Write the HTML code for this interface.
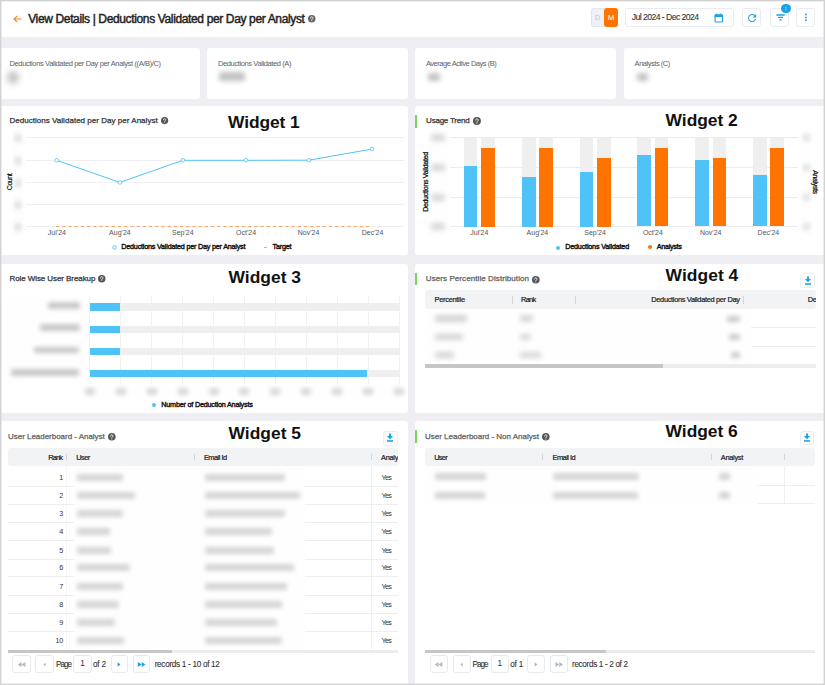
<!DOCTYPE html>
<html><head><meta charset="utf-8"><style>
html,body{margin:0;padding:0;width:825px;height:685px;overflow:hidden;background:#fff}
#root{position:relative;width:825px;height:685px;overflow:hidden;font-family:"Liberation Sans", sans-serif}
.r{position:absolute}
.t{position:absolute;white-space:nowrap;line-height:1;font-family:"Liberation Sans", sans-serif}
</style></head><body><div id="root">
<div class="r" style="left:0.00px;top:0.00px;width:825.00px;height:685.00px;background:#eeeef3"></div>
<div class="r" style="left:0.00px;top:0.00px;width:825.00px;height:37.00px;background:#fff"></div>
<svg class="r" style="left:12.5px;top:15px" width="9" height="8" viewBox="0 0 9 8"><path d="M8.5 4H1.3M4.3 0.9L1.1 4l3.2 3.1" stroke="#f58220" stroke-width="1.15" fill="none"/></svg>
<div id="title" class="t" style="left:28.20px;top:12.53px;font-size:12px;color:#222;-webkit-text-stroke:0.45px #222;letter-spacing:-0.361px;">View Details | Deductions Validated per Day per Analyst</div>
<svg class="r" style="left:308.25px;top:15.25px;overflow:visible" width="7.5" height="7.5" viewBox="0 0 16 16"><circle cx="8" cy="8" r="8" fill="#666"/><path d="M5.5 6.3a2.5 2.5 0 1 1 3.6 2.2c-.8.4-1.1.8-1.1 1.6v.3" stroke="#fff" stroke-width="1.8" fill="none" stroke-linecap="round"/><circle cx="8" cy="12.5" r="1.05" fill="#fff"/></svg>
<div class="r" style="left:590.80px;top:8.10px;width:14.20px;height:18.50px;background:#eef2f8;border:1px solid #e2e6ee;border-right:none;border-radius:3px 0 0 3px;box-sizing:border-box"></div>
<div class="r" style="left:603.90px;top:8.10px;width:13.90px;height:18.50px;background:#ff7300;border-radius:3px"></div>
<div id="tD" class="t" style="left:597.40px;transform:translateX(-50%);top:13.82px;font-size:7.5px;color:#c4c8d0;letter-spacing:0.000px;">D</div>
<div id="tM" class="t" style="left:611.10px;transform:translateX(-50%);top:13.56px;font-size:8px;color:#fff;letter-spacing:0.000px;">M</div>
<div class="r" style="left:625.40px;top:8.10px;width:108.40px;height:18.50px;background:#fff;border:1px solid #e8ebf0;border-radius:3px;box-sizing:border-box"></div>
<div id="date" class="t" style="left:631.80px;top:13.26px;font-size:8.7px;color:#333;-webkit-text-stroke:0.1px #333;letter-spacing:-0.576px;">Jul 2024 - Dec 2024</div>
<svg class="r" style="left:713.6px;top:12.6px" width="9.5" height="10" viewBox="0 0 9.5 10"><rect x="1.1" y="2" width="7.4" height="7" rx="0.7" stroke="#1ba1e6" stroke-width="1.15" fill="none"/><rect x="0.6" y="1.5" width="8.4" height="2.6" rx="0.6" fill="#1ba1e6"/><path d="M2.7 0.4v1.6M6.8 0.4v1.6" stroke="#1ba1e6" stroke-width="1.1"/></svg>
<div class="r" style="left:742.00px;top:8.30px;width:19.40px;height:18.70px;background:#fff;border:1px solid #e8ebf0;border-radius:3px;box-sizing:border-box"></div>
<svg class="r" style="left:746.6px;top:12.6px" width="10.2" height="10.2" viewBox="2 2 20 20"><path d="M17.65 6.35A7.958 7.958 0 0 0 12 4c-4.42 0-7.99 3.58-7.99 8s3.57 8 7.99 8c3.73 0 6.84-2.55 7.73-6h-2.08A5.99 5.99 0 0 1 12 18c-3.31 0-6-2.690-6-6s2.69-6 6-6c1.66 0 3.14.69 4.22 1.78L13 11h7V4l-2.35 2.35z" fill="#1ba1e6"/></svg>
<div class="r" style="left:770.00px;top:8.30px;width:19.40px;height:18.70px;background:#fff;border:1px solid #e8ebf0;border-radius:3px;box-sizing:border-box"></div>
<svg class="r" style="left:775.6px;top:14px" width="9" height="7" viewBox="0 0 9 7"><path d="M0.4 1h8.3M2 3.4h5.1M3.5 5.8h2.1" stroke="#1ba1e6" stroke-width="1.3"/></svg>
<div class="r" style="left:780.8px;top:3.7px;width:9.8px;height:9.8px;border-radius:50%;background:#1ba1e6;color:rgba(255,255,255,0.75);font-size:4.2px;line-height:9.8px;text-align:center;font-family:"Liberation Sans", sans-serif">1</div>
<div class="r" style="left:796.40px;top:8.30px;width:19.10px;height:18.70px;background:#fff;border:1px solid #e8ebf0;border-radius:3px;box-sizing:border-box"></div>
<svg class="r" style="left:800px;top:10px" width="12" height="14"><circle cx="5.9" cy="4.5" r="0.95" fill="#1ba1e6"/><circle cx="5.9" cy="7.4" r="0.95" fill="#1ba1e6"/><circle cx="5.9" cy="10.3" r="0.95" fill="#1ba1e6"/></svg>
<div class="r" style="left:0.00px;top:48.00px;width:199.50px;height:50.50px;background:#fff;border-radius:3px"></div>
<div class="r" style="left:206.50px;top:48.00px;width:201.50px;height:50.50px;background:#fff;border-radius:3px"></div>
<div class="r" style="left:415.00px;top:48.00px;width:201.30px;height:50.50px;background:#fff;border-radius:3px"></div>
<div class="r" style="left:623.50px;top:48.00px;width:201.50px;height:50.50px;background:#fff;border-radius:3px"></div>
<div id="s1" class="t" style="left:9.50px;top:59.52px;font-size:7.5px;color:#5e5e5e;letter-spacing:-0.366px;">Deductions Validated per Day per Analyst ((A/B)/C)</div>
<div id="s2" class="t" style="left:218.00px;top:59.52px;font-size:7.5px;color:#5e5e5e;letter-spacing:-0.388px;">Deductions Validated (A)</div>
<div id="s3" class="t" style="left:425.90px;top:59.52px;font-size:7.5px;color:#5e5e5e;letter-spacing:-0.466px;">Average Active Days (B)</div>
<div id="s4" class="t" style="left:634.60px;top:59.52px;font-size:7.5px;color:#5e5e5e;letter-spacing:-0.468px;">Analysts (C)</div>
<div class="r" style="left:7.50px;top:71.50px;width:10.00px;height:11.00px;background:#bababa;filter:blur(3.8px);opacity:1;border-radius:2px"></div>
<div class="r" style="left:219.00px;top:72.30px;width:26.00px;height:8.40px;background:#c2c2c2;filter:blur(2.6px);opacity:1;border-radius:2px"></div>
<div class="r" style="left:427.50px;top:72.50px;width:12.50px;height:8.00px;background:#c2c2c2;filter:blur(2.6px);opacity:1;border-radius:2px"></div>
<div class="r" style="left:636.50px;top:72.50px;width:11.50px;height:8.00px;background:#c2c2c2;filter:blur(2.6px);opacity:1;border-radius:2px"></div>
<div class="r" style="left:0.00px;top:106.00px;width:408.00px;height:149.00px;background:#fff;border-radius:3px"></div>
<div class="r" style="left:0.00px;top:263.70px;width:408.00px;height:149.70px;background:#fff;border-radius:3px"></div>
<div class="r" style="left:0.00px;top:421.00px;width:408.00px;height:269.00px;background:#fff;border-radius:3px"></div>
<div class="r" style="left:415.00px;top:106.00px;width:410.00px;height:149.00px;background:#fff;border-radius:3px"></div>
<div class="r" style="left:415.00px;top:263.70px;width:410.00px;height:149.70px;background:#fff;border-radius:3px"></div>
<div class="r" style="left:415.00px;top:421.00px;width:410.00px;height:269.00px;background:#fff;border-radius:3px"></div>
<div class="r" style="left:415.00px;top:114.80px;width:2.00px;height:13.00px;background:#7ed35f"></div>
<div class="r" style="left:415.00px;top:272.80px;width:2.00px;height:12.60px;background:#7ed35f"></div>
<div class="r" style="left:415.00px;top:430.10px;width:2.00px;height:12.70px;background:#7ed35f"></div>
<div id="w1t" class="t" style="left:9.50px;top:117.06px;font-size:8px;color:#333;-webkit-text-stroke:0.25px #333;letter-spacing:0.029px;">Deductions Validated per Day per Analyst</div>
<svg class="r" style="left:160.90px;top:117.30px;overflow:visible" width="7.2" height="7.2" viewBox="0 0 16 16"><circle cx="8" cy="8" r="8" fill="#555"/><path d="M5.5 6.3a2.5 2.5 0 1 1 3.6 2.2c-.8.4-1.1.8-1.1 1.6v.3" stroke="#fff" stroke-width="1.8" fill="none" stroke-linecap="round"/><circle cx="8" cy="12.5" r="1.05" fill="#fff"/></svg>
<div class="r" style="left:13.00px;top:129.00px;width:10.00px;height:106.00px;background:#fefefe;filter:blur(0.6px)"></div>
<div class="r" style="left:25.50px;top:137.00px;width:378.00px;height:1.00px;background:#efefef"></div>
<div class="r" style="left:15.00px;top:133.50px;width:6.00px;height:8.00px;background:#dcdcdc;filter:blur(2.4px);opacity:1;border-radius:2px"></div>
<div class="r" style="left:25.50px;top:160.00px;width:378.00px;height:1.00px;background:#efefef"></div>
<div class="r" style="left:15.00px;top:156.50px;width:6.00px;height:8.00px;background:#dcdcdc;filter:blur(2.4px);opacity:1;border-radius:2px"></div>
<div class="r" style="left:25.50px;top:182.00px;width:378.00px;height:1.00px;background:#efefef"></div>
<div class="r" style="left:15.00px;top:178.50px;width:6.00px;height:8.00px;background:#dcdcdc;filter:blur(2.4px);opacity:1;border-radius:2px"></div>
<div class="r" style="left:25.50px;top:204.00px;width:378.00px;height:1.00px;background:#efefef"></div>
<div class="r" style="left:15.00px;top:200.50px;width:6.00px;height:8.00px;background:#dcdcdc;filter:blur(2.4px);opacity:1;border-radius:2px"></div>
<div class="r" style="left:25.50px;top:226.00px;width:378.00px;height:1.00px;background:#efefef"></div>
<div class="r" style="left:15.00px;top:222.50px;width:6.00px;height:8.00px;background:#dcdcdc;filter:blur(2.4px);opacity:1;border-radius:2px"></div>
<div id="count" class="t" style="left:8.70px;top:182.10px;font-size:7px;color:#111;-webkit-text-stroke:0.2px #111;letter-spacing:-0.473px;transform:translate(-50%,-50%) rotate(-90deg)">Count</div>
<svg class="r" style="left:56px;top:225px" width="320" height="3"><path d="M0 1.5H316" stroke="#fca56b" stroke-width="1.1" stroke-dasharray="3.2 3"/></svg>
<svg class="r" style="left:0;top:0" width="412" height="260"><path d="M56.6 160.3 L119.9 182.4 L182.9 160.3 L245.9 160.3 L308.8 160.2 L371.9 149.1" stroke="#4fc3f7" stroke-width="1" fill="none"/><circle cx="56.6" cy="160.3" r="1.8" fill="#fff" stroke="#4fc3f7" stroke-width="0.8"/><circle cx="119.9" cy="182.4" r="1.8" fill="#fff" stroke="#4fc3f7" stroke-width="0.8"/><circle cx="182.9" cy="160.3" r="1.8" fill="#fff" stroke="#4fc3f7" stroke-width="0.8"/><circle cx="245.9" cy="160.3" r="1.8" fill="#fff" stroke="#4fc3f7" stroke-width="0.8"/><circle cx="308.8" cy="160.2" r="1.8" fill="#fff" stroke="#4fc3f7" stroke-width="0.8"/><circle cx="371.9" cy="149.1" r="1.8" fill="#fff" stroke="#4fc3f7" stroke-width="0.8"/></svg>
<div id="w1x0" class="t" style="left:56.90px;transform:translateX(-50%);top:229.39px;font-size:7px;color:#555;letter-spacing:0.000px;">Jul'24</div>
<div id="w1x1" class="t" style="left:119.90px;transform:translateX(-50%);top:229.39px;font-size:7px;color:#555;letter-spacing:0.000px;">Aug'24</div>
<div id="w1x2" class="t" style="left:182.80px;transform:translateX(-50%);top:229.39px;font-size:7px;color:#555;letter-spacing:0.000px;">Sep'24</div>
<div id="w1x3" class="t" style="left:246.10px;transform:translateX(-50%);top:229.39px;font-size:7px;color:#555;letter-spacing:0.000px;">Oct'24</div>
<div id="w1x4" class="t" style="left:308.50px;transform:translateX(-50%);top:229.39px;font-size:7px;color:#555;letter-spacing:0.000px;">Nov'24</div>
<div id="w1x5" class="t" style="left:372.50px;transform:translateX(-50%);top:229.39px;font-size:7px;color:#555;letter-spacing:0.000px;">Dec'24</div>
<svg class="r" style="left:112px;top:244.8px" width="5" height="5"><circle cx="2.5" cy="2.5" r="1.8" fill="#fff" stroke="#4fc3f7" stroke-width="0.9"/></svg>
<div id="w1l1" class="t" style="left:121.30px;top:242.96px;font-size:7.2px;color:#111;-webkit-text-stroke:0.4px #111;letter-spacing:-0.203px;">Deductions Validated per Day per Analyst</div>
<div class="r" style="left:264.10px;top:247.00px;width:3.20px;height:1.00px;background:#fca56b"></div>
<div id="w1l2" class="t" style="left:272.60px;top:242.96px;font-size:7.2px;color:#111;-webkit-text-stroke:0.4px #111;letter-spacing:-0.217px;">Target</div>
<div id="w2t" class="t" style="left:426.10px;top:116.76px;font-size:8px;color:#333;-webkit-text-stroke:0.25px #333;letter-spacing:-0.231px;">Usage Trend</div>
<svg class="r" style="left:473.05px;top:117.05px;overflow:visible" width="7.9" height="7.9" viewBox="0 0 16 16"><circle cx="8" cy="8" r="8" fill="#555"/><path d="M5.5 6.3a2.5 2.5 0 1 1 3.6 2.2c-.8.4-1.1.8-1.1 1.6v.3" stroke="#fff" stroke-width="1.8" fill="none" stroke-linecap="round"/><circle cx="8" cy="12.5" r="1.05" fill="#fff"/></svg>
<div class="r" style="left:428.00px;top:126.00px;width:20.00px;height:109.00px;background:#fefefe;filter:blur(0.6px)"></div>
<div class="r" style="left:800.50px;top:125.00px;width:10.50px;height:110.00px;background:#fefefe;filter:blur(0.6px)"></div>
<div class="r" style="left:450.20px;top:137.00px;width:347.50px;height:1.00px;background:#ececec"></div>
<div class="r" style="left:431.00px;top:133.70px;width:14.00px;height:7.60px;background:#d8d8d8;filter:blur(2.5px);opacity:1;border-radius:2px"></div>
<div class="r" style="left:802.50px;top:133.70px;width:7.50px;height:7.60px;background:#dedede;filter:blur(2.5px);opacity:1;border-radius:2px"></div>
<div class="r" style="left:450.20px;top:167.00px;width:347.50px;height:1.00px;background:#ececec"></div>
<div class="r" style="left:431.00px;top:163.70px;width:14.00px;height:7.60px;background:#d8d8d8;filter:blur(2.5px);opacity:1;border-radius:2px"></div>
<div class="r" style="left:802.50px;top:163.70px;width:7.50px;height:7.60px;background:#dedede;filter:blur(2.5px);opacity:1;border-radius:2px"></div>
<div class="r" style="left:450.20px;top:197.00px;width:347.50px;height:1.00px;background:#ececec"></div>
<div class="r" style="left:431.00px;top:193.70px;width:14.00px;height:7.60px;background:#d8d8d8;filter:blur(2.5px);opacity:1;border-radius:2px"></div>
<div class="r" style="left:802.50px;top:193.70px;width:7.50px;height:7.60px;background:#dedede;filter:blur(2.5px);opacity:1;border-radius:2px"></div>
<div class="r" style="left:450.20px;top:226.00px;width:347.50px;height:1.00px;background:#ececec"></div>
<div class="r" style="left:431.00px;top:222.70px;width:14.00px;height:7.60px;background:#d8d8d8;filter:blur(2.5px);opacity:1;border-radius:2px"></div>
<div class="r" style="left:802.50px;top:222.70px;width:7.50px;height:7.60px;background:#dedede;filter:blur(2.5px);opacity:1;border-radius:2px"></div>
<div class="r" style="left:463.70px;top:137.50px;width:13.80px;height:89.00px;background:#efefef"></div>
<div class="r" style="left:481.10px;top:137.50px;width:13.80px;height:89.00px;background:#efefef"></div>
<div class="r" style="left:463.70px;top:165.75px;width:13.80px;height:60.75px;background:#4fc3f7"></div>
<div class="r" style="left:481.10px;top:148.25px;width:13.80px;height:78.25px;background:#ff7300"></div>
<div class="r" style="left:521.80px;top:137.50px;width:13.80px;height:89.00px;background:#efefef"></div>
<div class="r" style="left:539.20px;top:137.50px;width:13.80px;height:89.00px;background:#efefef"></div>
<div class="r" style="left:521.80px;top:176.50px;width:13.80px;height:50.00px;background:#4fc3f7"></div>
<div class="r" style="left:539.20px;top:148.25px;width:13.80px;height:78.25px;background:#ff7300"></div>
<div class="r" style="left:579.50px;top:137.50px;width:13.80px;height:89.00px;background:#efefef"></div>
<div class="r" style="left:596.90px;top:137.50px;width:13.80px;height:89.00px;background:#efefef"></div>
<div class="r" style="left:579.50px;top:172.00px;width:13.80px;height:54.50px;background:#4fc3f7"></div>
<div class="r" style="left:596.90px;top:158.25px;width:13.80px;height:68.25px;background:#ff7300"></div>
<div class="r" style="left:637.30px;top:137.50px;width:13.80px;height:89.00px;background:#efefef"></div>
<div class="r" style="left:654.70px;top:137.50px;width:13.80px;height:89.00px;background:#efefef"></div>
<div class="r" style="left:637.30px;top:155.10px;width:13.80px;height:71.40px;background:#4fc3f7"></div>
<div class="r" style="left:654.70px;top:148.40px;width:13.80px;height:78.10px;background:#ff7300"></div>
<div class="r" style="left:695.10px;top:137.50px;width:13.80px;height:89.00px;background:#efefef"></div>
<div class="r" style="left:712.50px;top:137.50px;width:13.80px;height:89.00px;background:#efefef"></div>
<div class="r" style="left:695.10px;top:159.60px;width:13.80px;height:66.90px;background:#4fc3f7"></div>
<div class="r" style="left:712.50px;top:158.10px;width:13.80px;height:68.40px;background:#ff7300"></div>
<div class="r" style="left:752.80px;top:137.50px;width:13.80px;height:89.00px;background:#efefef"></div>
<div class="r" style="left:770.20px;top:137.50px;width:13.80px;height:89.00px;background:#efefef"></div>
<div class="r" style="left:752.80px;top:174.70px;width:13.80px;height:51.80px;background:#4fc3f7"></div>
<div class="r" style="left:770.20px;top:148.40px;width:13.80px;height:78.10px;background:#ff7300"></div>
<div id="w2x0" class="t" style="left:479.30px;transform:translateX(-50%);top:228.79px;font-size:7px;color:#555;letter-spacing:0.000px;">Jul'24</div>
<div id="w2x1" class="t" style="left:537.40px;transform:translateX(-50%);top:228.79px;font-size:7px;color:#555;letter-spacing:0.000px;">Aug'24</div>
<div id="w2x2" class="t" style="left:595.10px;transform:translateX(-50%);top:228.79px;font-size:7px;color:#555;letter-spacing:0.000px;">Sep'24</div>
<div id="w2x3" class="t" style="left:652.90px;transform:translateX(-50%);top:228.79px;font-size:7px;color:#555;letter-spacing:0.000px;">Oct'24</div>
<div id="w2x4" class="t" style="left:710.70px;transform:translateX(-50%);top:228.79px;font-size:7px;color:#555;letter-spacing:0.000px;">Nov'24</div>
<div id="w2x5" class="t" style="left:768.40px;transform:translateX(-50%);top:228.79px;font-size:7px;color:#555;letter-spacing:0.000px;">Dec'24</div>
<div id="dvlab" class="t" style="left:425.20px;top:182.10px;font-size:7px;color:#111;-webkit-text-stroke:0.25px #111;letter-spacing:-0.297px;transform:translate(-50%,-50%) rotate(-90deg)">Deductions Validated</div>
<div id="anlab" class="t" style="left:814.80px;top:182.10px;font-size:7px;color:#111;-webkit-text-stroke:0.25px #111;letter-spacing:-0.380px;transform:translate(-50%,-50%) rotate(90deg)">Analysts</div>
<div class="r" style="left:556.2px;top:245.5px;width:4px;height:4px;border-radius:50%;background:#4fc3f7"></div>
<div id="w2l1" class="t" style="left:565.20px;top:242.96px;font-size:7.2px;color:#111;-webkit-text-stroke:0.4px #111;letter-spacing:-0.179px;">Deductions Validated</div>
<div class="r" style="left:647.8px;top:244.6px;width:4px;height:4px;border-radius:50%;background:#ff7300"></div>
<div id="w2l2" class="t" style="left:656.80px;top:242.96px;font-size:7.2px;color:#111;-webkit-text-stroke:0.4px #111;letter-spacing:-0.310px;">Analysts</div>
<div id="w3t" class="t" style="left:9.50px;top:275.06px;font-size:8px;color:#333;-webkit-text-stroke:0.25px #333;letter-spacing:-0.081px;">Role Wise User Breakup</div>
<svg class="r" style="left:98.45px;top:275.25px;overflow:visible" width="7.5" height="7.5" viewBox="0 0 16 16"><circle cx="8" cy="8" r="8" fill="#555"/><path d="M5.5 6.3a2.5 2.5 0 1 1 3.6 2.2c-.8.4-1.1.8-1.1 1.6v.3" stroke="#fff" stroke-width="1.8" fill="none" stroke-linecap="round"/><circle cx="8" cy="12.5" r="1.05" fill="#fff"/></svg>
<div class="r" style="left:3.00px;top:298.00px;width:83.00px;height:84.00px;background:#fefefe;filter:blur(0.6px)"></div>
<div class="r" style="left:80.00px;top:385.00px;width:325.00px;height:14.00px;background:#fefefe;filter:blur(0.6px)"></div>
<div class="r" style="left:89.20px;top:295.00px;width:1.00px;height:89.00px;background:#f1f1f1"></div>
<div class="r" style="left:84.70px;top:388.00px;width:10.00px;height:6.50px;background:#d8d8d8;filter:blur(2.3px);opacity:1;border-radius:2px"></div>
<div class="r" style="left:120.15px;top:295.00px;width:1.00px;height:89.00px;background:#f1f1f1"></div>
<div class="r" style="left:115.65px;top:388.00px;width:10.00px;height:6.50px;background:#d8d8d8;filter:blur(2.3px);opacity:1;border-radius:2px"></div>
<div class="r" style="left:151.10px;top:295.00px;width:1.00px;height:89.00px;background:#f1f1f1"></div>
<div class="r" style="left:146.60px;top:388.00px;width:10.00px;height:6.50px;background:#d8d8d8;filter:blur(2.3px);opacity:1;border-radius:2px"></div>
<div class="r" style="left:182.05px;top:295.00px;width:1.00px;height:89.00px;background:#f1f1f1"></div>
<div class="r" style="left:177.55px;top:388.00px;width:10.00px;height:6.50px;background:#d8d8d8;filter:blur(2.3px);opacity:1;border-radius:2px"></div>
<div class="r" style="left:213.00px;top:295.00px;width:1.00px;height:89.00px;background:#f1f1f1"></div>
<div class="r" style="left:208.50px;top:388.00px;width:10.00px;height:6.50px;background:#d8d8d8;filter:blur(2.3px);opacity:1;border-radius:2px"></div>
<div class="r" style="left:243.95px;top:295.00px;width:1.00px;height:89.00px;background:#f1f1f1"></div>
<div class="r" style="left:239.45px;top:388.00px;width:10.00px;height:6.50px;background:#d8d8d8;filter:blur(2.3px);opacity:1;border-radius:2px"></div>
<div class="r" style="left:274.90px;top:295.00px;width:1.00px;height:89.00px;background:#f1f1f1"></div>
<div class="r" style="left:270.40px;top:388.00px;width:10.00px;height:6.50px;background:#d8d8d8;filter:blur(2.3px);opacity:1;border-radius:2px"></div>
<div class="r" style="left:305.85px;top:295.00px;width:1.00px;height:89.00px;background:#f1f1f1"></div>
<div class="r" style="left:301.35px;top:388.00px;width:10.00px;height:6.50px;background:#d8d8d8;filter:blur(2.3px);opacity:1;border-radius:2px"></div>
<div class="r" style="left:336.80px;top:295.00px;width:1.00px;height:89.00px;background:#f1f1f1"></div>
<div class="r" style="left:332.30px;top:388.00px;width:10.00px;height:6.50px;background:#d8d8d8;filter:blur(2.3px);opacity:1;border-radius:2px"></div>
<div class="r" style="left:367.75px;top:295.00px;width:1.00px;height:89.00px;background:#f1f1f1"></div>
<div class="r" style="left:363.25px;top:388.00px;width:10.00px;height:6.50px;background:#d8d8d8;filter:blur(2.3px);opacity:1;border-radius:2px"></div>
<div class="r" style="left:398.70px;top:295.00px;width:1.00px;height:89.00px;background:#f1f1f1"></div>
<div class="r" style="left:394.20px;top:388.00px;width:10.00px;height:6.50px;background:#d8d8d8;filter:blur(2.3px);opacity:1;border-radius:2px"></div>
<div class="r" style="left:89.50px;top:303.10px;width:310.20px;height:7.60px;background:#efefef"></div>
<div class="r" style="left:89.50px;top:303.10px;width:30.60px;height:7.60px;background:#4fc3f7"></div>
<div class="r" style="left:89.50px;top:325.50px;width:310.20px;height:7.30px;background:#efefef"></div>
<div class="r" style="left:89.50px;top:325.50px;width:30.60px;height:7.30px;background:#4fc3f7"></div>
<div class="r" style="left:89.50px;top:347.70px;width:310.20px;height:7.20px;background:#efefef"></div>
<div class="r" style="left:89.50px;top:347.70px;width:30.60px;height:7.20px;background:#4fc3f7"></div>
<div class="r" style="left:89.50px;top:369.50px;width:310.20px;height:7.40px;background:#efefef"></div>
<div class="r" style="left:89.50px;top:369.50px;width:277.80px;height:7.40px;background:#4fc3f7"></div>
<div class="r" style="left:48.00px;top:302.30px;width:31.50px;height:6.60px;background:#c9c9c9;filter:blur(2.3px);opacity:1;border-radius:2px"></div>
<div class="r" style="left:40.00px;top:324.40px;width:39.50px;height:6.60px;background:#c9c9c9;filter:blur(2.3px);opacity:1;border-radius:2px"></div>
<div class="r" style="left:34.40px;top:346.90px;width:45.10px;height:6.60px;background:#c9c9c9;filter:blur(2.3px);opacity:1;border-radius:2px"></div>
<div class="r" style="left:11.10px;top:369.40px;width:68.40px;height:6.60px;background:#c9c9c9;filter:blur(2.3px);opacity:1;border-radius:2px"></div>
<div class="r" style="left:151.80px;top:403.40px;width:3.80px;height:3.80px;background:#4fc3f7;border-radius:50%"></div>
<div id="w3l" class="t" style="left:161.30px;top:401.36px;font-size:7.2px;color:#111;-webkit-text-stroke:0.4px #111;letter-spacing:-0.192px;">Number of Deduction Analysts</div>
<div id="w4t" class="t" style="left:425.80px;top:275.36px;font-size:8px;color:#606060;-webkit-text-stroke:0.25px #606060;letter-spacing:0.081px;">Users Percentile Distribution</div>
<svg class="r" style="left:532.20px;top:275.90px;overflow:visible" width="7.6" height="7.6" viewBox="0 0 16 16"><circle cx="8" cy="8" r="8" fill="#555"/><path d="M5.5 6.3a2.5 2.5 0 1 1 3.6 2.2c-.8.4-1.1.8-1.1 1.6v.3" stroke="#fff" stroke-width="1.8" fill="none" stroke-linecap="round"/><circle cx="8" cy="12.5" r="1.05" fill="#fff"/></svg>
<div class="r" style="left:800.20px;top:273.00px;width:15.00px;height:15.00px;background:#fff;border:1px solid #eceef2;border-radius:3px;box-sizing:border-box"></div>
<svg class="r" style="left:802.70px;top:275.50px" width="10" height="10" viewBox="-5 -5 10 10"><path d="M-0.95 -4.6H0.95V-1.9H3.1L0 1.2-3.1 -1.9H-0.95z" fill="#1ba1e6"/><path d="M-3 2.2H3.1V3.75H-3z" fill="#1ba1e6"/></svg>
<div class="r" style="left:425.00px;top:290.00px;width:391.00px;height:18.75px;background:#f2f3f5;border-radius:3px"></div>
<div id="w4h1" class="t" style="left:434.50px;top:295.83px;font-size:7.4px;color:#222;-webkit-text-stroke:0.22px #222;letter-spacing:-0.264px;">Percentile</div>
<div id="w4h2" class="t" style="left:521.00px;top:295.83px;font-size:7.4px;color:#222;-webkit-text-stroke:0.22px #222;letter-spacing:-0.672px;">Rank</div>
<div id="w4h3" class="t" style="left:651.30px;top:295.83px;font-size:7.4px;color:#222;-webkit-text-stroke:0.22px #222;letter-spacing:-0.316px;">Deductions Validated per Day</div>
<div class="r" style="left:425.00px;top:290.00px;width:391.00px;height:19.00px;overflow:hidden"><div class="r" style="left:-425.00px;top:-290.00px;width:825px;height:685px">
<div id="w4h4" class="t" style="left:807.70px;top:295.83px;font-size:7.4px;color:#222;-webkit-text-stroke:0.22px #222;letter-spacing:0.000px;letter-spacing:-0.316px">Deductions</div>
</div></div>
<div class="r" style="left:511.60px;top:295.50px;width:0.80px;height:8.00px;background:#d6d6d6"></div>
<div class="r" style="left:575.40px;top:295.50px;width:0.80px;height:8.00px;background:#d6d6d6"></div>
<div class="r" style="left:742.90px;top:295.50px;width:0.80px;height:8.00px;background:#d6d6d6"></div>
<div class="r" style="left:751.00px;top:327.20px;width:65.00px;height:0.80px;background:#efefef"></div>
<div class="r" style="left:751.00px;top:345.90px;width:65.00px;height:0.80px;background:#efefef"></div>
<div class="r" style="left:425.00px;top:309.00px;width:326.00px;height:55.00px;background:#fefefe;filter:blur(0.6px)"></div>
<div class="r" style="left:435.00px;top:315.40px;width:31.60px;height:6.40px;background:#d4d4d4;filter:blur(2.4px);opacity:1;border-radius:2px"></div>
<div class="r" style="left:435.00px;top:334.00px;width:28.20px;height:6.40px;background:#d4d4d4;filter:blur(2.4px);opacity:1;border-radius:2px"></div>
<div class="r" style="left:435.00px;top:351.80px;width:19.00px;height:6.40px;background:#d4d4d4;filter:blur(2.4px);opacity:1;border-radius:2px"></div>
<div class="r" style="left:520.00px;top:315.40px;width:12.70px;height:6.40px;background:#d8d8d8;filter:blur(2.4px);opacity:1;border-radius:2px"></div>
<div class="r" style="left:520.00px;top:334.00px;width:11.00px;height:6.40px;background:#d8d8d8;filter:blur(2.4px);opacity:1;border-radius:2px"></div>
<div class="r" style="left:520.00px;top:351.80px;width:21.20px;height:6.40px;background:#d8d8d8;filter:blur(2.4px);opacity:1;border-radius:2px"></div>
<div class="r" style="left:727.00px;top:315.60px;width:13.00px;height:6.00px;background:#cccccc;filter:blur(2.1px);opacity:1;border-radius:2px"></div>
<div class="r" style="left:729.00px;top:334.20px;width:11.00px;height:6.00px;background:#cccccc;filter:blur(2.1px);opacity:1;border-radius:2px"></div>
<div class="r" style="left:731.00px;top:352.00px;width:9.00px;height:6.00px;background:#cccccc;filter:blur(2.1px);opacity:1;border-radius:2px"></div>
<div class="r" style="left:425.00px;top:364.40px;width:391.00px;height:3.40px;background:#ececec"></div>
<div class="r" style="left:425.00px;top:364.40px;width:237.60px;height:3.40px;background:#c6c6c6"></div>
<div id="w5t" class="t" style="left:8.00px;top:433.06px;font-size:8px;color:#606060;-webkit-text-stroke:0.25px #606060;letter-spacing:-0.024px;">User Leaderboard - Analyst</div>
<svg class="r" style="left:108.10px;top:433.20px;overflow:visible" width="7.6" height="7.6" viewBox="0 0 16 16"><circle cx="8" cy="8" r="8" fill="#555"/><path d="M5.5 6.3a2.5 2.5 0 1 1 3.6 2.2c-.8.4-1.1.8-1.1 1.6v.3" stroke="#fff" stroke-width="1.8" fill="none" stroke-linecap="round"/><circle cx="8" cy="12.5" r="1.05" fill="#fff"/></svg>
<div class="r" style="left:382.80px;top:430.50px;width:15.20px;height:15.00px;background:#fff;border:1px solid #eceef2;border-radius:3px;box-sizing:border-box"></div>
<svg class="r" style="left:385.40px;top:433.00px" width="10" height="10" viewBox="-5 -5 10 10"><path d="M-0.95 -4.6H0.95V-1.9H3.1L0 1.2-3.1 -1.9H-0.95z" fill="#1ba1e6"/><path d="M-3 2.2H3.1V3.75H-3z" fill="#1ba1e6"/></svg>
<div class="r" style="left:8.00px;top:447.60px;width:390.20px;height:18.60px;background:#f2f3f5;border-radius:3px"></div>
<div id="w5h1" class="t" style="left:48.25px;top:453.53px;font-size:7.4px;color:#222;-webkit-text-stroke:0.22px #222;letter-spacing:-0.835px;">Rank</div>
<div id="w5h2" class="t" style="left:76.25px;top:453.53px;font-size:7.4px;color:#222;-webkit-text-stroke:0.22px #222;letter-spacing:-0.535px;">User</div>
<div id="w5h3" class="t" style="left:203.90px;top:453.53px;font-size:7.4px;color:#222;-webkit-text-stroke:0.22px #222;letter-spacing:-0.500px;">Email Id</div>
<div class="r" style="left:8.00px;top:447.00px;width:390.20px;height:20.00px;overflow:hidden"><div class="r" style="left:-8.00px;top:-447.00px;width:825px;height:685px">
<div id="w5h4" class="t" style="left:381.00px;top:453.53px;font-size:7.4px;color:#222;-webkit-text-stroke:0.22px #222;letter-spacing:0.000px;letter-spacing:-0.290px">Analyst</div>
</div></div>
<div class="r" style="left:66.10px;top:454.00px;width:0.80px;height:6.30px;background:#d6d6d6"></div>
<div class="r" style="left:193.90px;top:454.00px;width:0.80px;height:6.30px;background:#d6d6d6"></div>
<div class="r" style="left:371.40px;top:454.00px;width:0.80px;height:6.30px;background:#d6d6d6"></div>
<div class="r" style="left:66.20px;top:466.20px;width:0.60px;height:183.30px;background:#f4f4f4"></div>
<div class="r" style="left:371.20px;top:466.20px;width:0.60px;height:183.30px;background:#f0f0f0"></div>
<div class="r" style="left:8.00px;top:485.60px;width:390.20px;height:0.70px;background:#eeeeee"></div>
<div class="r" style="left:8.00px;top:503.60px;width:390.20px;height:0.70px;background:#eeeeee"></div>
<div class="r" style="left:8.00px;top:521.85px;width:390.20px;height:0.70px;background:#eeeeee"></div>
<div class="r" style="left:8.00px;top:539.85px;width:390.20px;height:0.70px;background:#eeeeee"></div>
<div class="r" style="left:8.00px;top:558.60px;width:390.20px;height:0.70px;background:#eeeeee"></div>
<div class="r" style="left:8.00px;top:576.10px;width:390.20px;height:0.70px;background:#eeeeee"></div>
<div class="r" style="left:8.00px;top:594.85px;width:390.20px;height:0.70px;background:#eeeeee"></div>
<div class="r" style="left:8.00px;top:612.85px;width:390.20px;height:0.70px;background:#eeeeee"></div>
<div class="r" style="left:8.00px;top:631.10px;width:390.20px;height:0.70px;background:#eeeeee"></div>
<div class="r" style="left:74.00px;top:466.50px;width:231.00px;height:182.80px;background:#fefefe;filter:blur(0.6px)"></div>
<div id="w5r0" class="t" style="right:762.00px;top:473.86px;font-size:7.2px;color:#333;letter-spacing:0.000px;letter-spacing:-0.2px">1</div>
<div id="w5y0" class="t" style="left:381.50px;top:473.76px;font-size:7.2px;color:#333;letter-spacing:0.000px;letter-spacing:-0.75px">Yes</div>
<div class="r" style="left:76.50px;top:473.50px;width:46.00px;height:7.00px;background:#d5d5d5;filter:blur(2.3px);opacity:1;border-radius:2px"></div>
<div class="r" style="left:204.50px;top:473.50px;width:80.25px;height:7.00px;background:#d5d5d5;filter:blur(2.3px);opacity:1;border-radius:2px"></div>
<div id="w5r1" class="t" style="right:762.00px;top:491.86px;font-size:7.2px;color:#333;letter-spacing:0.000px;letter-spacing:-0.2px">2</div>
<div id="w5y1" class="t" style="left:381.50px;top:491.76px;font-size:7.2px;color:#333;letter-spacing:0.000px;letter-spacing:-0.75px">Yes</div>
<div class="r" style="left:76.50px;top:491.50px;width:58.50px;height:7.00px;background:#d5d5d5;filter:blur(2.3px);opacity:1;border-radius:2px"></div>
<div class="r" style="left:204.50px;top:491.50px;width:95.25px;height:7.00px;background:#d5d5d5;filter:blur(2.3px);opacity:1;border-radius:2px"></div>
<div id="w5r2" class="t" style="right:762.00px;top:510.11px;font-size:7.2px;color:#333;letter-spacing:0.000px;letter-spacing:-0.2px">3</div>
<div id="w5y2" class="t" style="left:381.50px;top:510.01px;font-size:7.2px;color:#333;letter-spacing:0.000px;letter-spacing:-0.75px">Yes</div>
<div class="r" style="left:76.50px;top:509.75px;width:46.00px;height:7.00px;background:#d5d5d5;filter:blur(2.3px);opacity:1;border-radius:2px"></div>
<div class="r" style="left:204.50px;top:509.75px;width:80.25px;height:7.00px;background:#d5d5d5;filter:blur(2.3px);opacity:1;border-radius:2px"></div>
<div id="w5r3" class="t" style="right:762.00px;top:528.11px;font-size:7.2px;color:#333;letter-spacing:0.000px;letter-spacing:-0.2px">4</div>
<div id="w5y3" class="t" style="left:381.50px;top:528.01px;font-size:7.2px;color:#333;letter-spacing:0.000px;letter-spacing:-0.75px">Yes</div>
<div class="r" style="left:76.50px;top:527.75px;width:33.50px;height:7.00px;background:#d5d5d5;filter:blur(2.3px);opacity:1;border-radius:2px"></div>
<div class="r" style="left:204.50px;top:527.75px;width:67.75px;height:7.00px;background:#d5d5d5;filter:blur(2.3px);opacity:1;border-radius:2px"></div>
<div id="w5r4" class="t" style="right:762.00px;top:546.86px;font-size:7.2px;color:#333;letter-spacing:0.000px;letter-spacing:-0.2px">5</div>
<div id="w5y4" class="t" style="left:381.50px;top:546.76px;font-size:7.2px;color:#333;letter-spacing:0.000px;letter-spacing:-0.75px">Yes</div>
<div class="r" style="left:76.50px;top:546.50px;width:34.75px;height:7.00px;background:#d5d5d5;filter:blur(2.3px);opacity:1;border-radius:2px"></div>
<div class="r" style="left:204.50px;top:546.50px;width:69.00px;height:7.00px;background:#d5d5d5;filter:blur(2.3px);opacity:1;border-radius:2px"></div>
<div id="w5r5" class="t" style="right:762.00px;top:564.36px;font-size:7.2px;color:#333;letter-spacing:0.000px;letter-spacing:-0.2px">6</div>
<div id="w5y5" class="t" style="left:381.50px;top:564.26px;font-size:7.2px;color:#333;letter-spacing:0.000px;letter-spacing:-0.75px">Yes</div>
<div class="r" style="left:76.50px;top:564.00px;width:53.50px;height:7.00px;background:#d5d5d5;filter:blur(2.3px);opacity:1;border-radius:2px"></div>
<div class="r" style="left:204.50px;top:564.00px;width:89.00px;height:7.00px;background:#d5d5d5;filter:blur(2.3px);opacity:1;border-radius:2px"></div>
<div id="w5r6" class="t" style="right:762.00px;top:583.11px;font-size:7.2px;color:#333;letter-spacing:0.000px;letter-spacing:-0.2px">7</div>
<div id="w5y6" class="t" style="left:381.50px;top:583.01px;font-size:7.2px;color:#333;letter-spacing:0.000px;letter-spacing:-0.75px">Yes</div>
<div class="r" style="left:76.50px;top:582.75px;width:46.00px;height:7.00px;background:#d5d5d5;filter:blur(2.3px);opacity:1;border-radius:2px"></div>
<div class="r" style="left:204.50px;top:582.75px;width:82.75px;height:7.00px;background:#d5d5d5;filter:blur(2.3px);opacity:1;border-radius:2px"></div>
<div id="w5r7" class="t" style="right:762.00px;top:601.11px;font-size:7.2px;color:#333;letter-spacing:0.000px;letter-spacing:-0.2px">8</div>
<div id="w5y7" class="t" style="left:381.50px;top:601.01px;font-size:7.2px;color:#333;letter-spacing:0.000px;letter-spacing:-0.75px">Yes</div>
<div class="r" style="left:76.50px;top:600.75px;width:42.25px;height:7.00px;background:#d5d5d5;filter:blur(2.3px);opacity:1;border-radius:2px"></div>
<div class="r" style="left:204.50px;top:600.75px;width:77.75px;height:7.00px;background:#d5d5d5;filter:blur(2.3px);opacity:1;border-radius:2px"></div>
<div id="w5r8" class="t" style="right:762.00px;top:619.36px;font-size:7.2px;color:#333;letter-spacing:0.000px;letter-spacing:-0.2px">9</div>
<div id="w5y8" class="t" style="left:381.50px;top:619.26px;font-size:7.2px;color:#333;letter-spacing:0.000px;letter-spacing:-0.75px">Yes</div>
<div class="r" style="left:76.50px;top:619.00px;width:38.50px;height:7.00px;background:#d5d5d5;filter:blur(2.3px);opacity:1;border-radius:2px"></div>
<div class="r" style="left:204.50px;top:619.00px;width:72.75px;height:7.00px;background:#d5d5d5;filter:blur(2.3px);opacity:1;border-radius:2px"></div>
<div id="w5r9" class="t" style="right:762.00px;top:637.36px;font-size:7.2px;color:#333;letter-spacing:0.000px;letter-spacing:-0.2px">10</div>
<div id="w5y9" class="t" style="left:381.50px;top:637.26px;font-size:7.2px;color:#333;letter-spacing:0.000px;letter-spacing:-0.75px">Yes</div>
<div class="r" style="left:76.50px;top:637.00px;width:47.25px;height:7.00px;background:#d5d5d5;filter:blur(2.3px);opacity:1;border-radius:2px"></div>
<div class="r" style="left:204.50px;top:637.00px;width:77.75px;height:7.00px;background:#d5d5d5;filter:blur(2.3px);opacity:1;border-radius:2px"></div>
<div class="r" style="left:8.00px;top:649.50px;width:390.20px;height:3.10px;background:#ececec"></div>
<div class="r" style="left:8.00px;top:649.50px;width:164.00px;height:3.10px;background:#c6c6c6"></div>
<div class="r" style="left:12.40px;top:655.30px;width:18.30px;height:18.10px;background:#fff;border:1px solid #e6e9ee;border-radius:3px;box-sizing:border-box"></div>
<div class="r" style="left:35.30px;top:655.30px;width:18.30px;height:18.10px;background:#fff;border:1px solid #e6e9ee;border-radius:3px;box-sizing:border-box"></div>
<div class="r" style="left:110.50px;top:655.30px;width:17.00px;height:18.10px;background:#fff;border:1px solid #e6e9ee;border-radius:3px;box-sizing:border-box"></div>
<div class="r" style="left:132.90px;top:655.30px;width:17.50px;height:18.10px;background:#fff;border:1px solid #e6e9ee;border-radius:3px;box-sizing:border-box"></div>
<div class="r" style="left:73.30px;top:655.30px;width:18.40px;height:18.10px;background:#fff;border:1px solid #e6e9ee;border-radius:3px;box-sizing:border-box"></div>
<svg class="r" style="left:0;top:0" width="825" height="685"><path d="M21.55 662.05L17.75 664.55L21.55 667.05z" fill="#b4b8c0"/><path d="M25.35 662.05L21.55 664.55L25.35 667.05z" fill="#b4b8c0"/><path d="M45.65 662.65L43.25 664.55L45.65 666.45z" fill="#b4b8c0"/><path d="M117.60 662.35L120.40 664.55L117.60 666.75z" fill="#1ba1e6"/><path d="M137.85 662.05L141.65 664.55L137.85 667.05z" fill="#1ba1e6"/><path d="M141.65 662.05L145.45 664.55L141.65 667.05z" fill="#1ba1e6"/></svg>
<div id="p5pg" class="t" style="left:56.00px;top:660.93px;font-size:8.2px;color:#333;-webkit-text-stroke:0.1px #333;letter-spacing:-1.046px;">Page</div>
<div id="p5in" class="t" style="left:82.50px;transform:translateX(-50%);top:660.23px;font-size:8.2px;color:#333;letter-spacing:0.000px;">1</div>
<div id="p5of" class="t" style="left:93.00px;top:660.93px;font-size:8.2px;color:#333;-webkit-text-stroke:0.1px #333;letter-spacing:-0.219px;">of 2</div>
<div id="p5rec" class="t" style="left:154.70px;top:660.93px;font-size:8.2px;color:#333;-webkit-text-stroke:0.1px #333;letter-spacing:-0.306px;">records 1 - 10 of 12</div>
<div id="w6t" class="t" style="left:425.10px;top:433.06px;font-size:8px;color:#606060;-webkit-text-stroke:0.25px #606060;letter-spacing:-0.017px;">User Leaderboard - Non Analyst</div>
<svg class="r" style="left:541.80px;top:433.20px;overflow:visible" width="7.6" height="7.6" viewBox="0 0 16 16"><circle cx="8" cy="8" r="8" fill="#555"/><path d="M5.5 6.3a2.5 2.5 0 1 1 3.6 2.2c-.8.4-1.1.8-1.1 1.6v.3" stroke="#fff" stroke-width="1.8" fill="none" stroke-linecap="round"/><circle cx="8" cy="12.5" r="1.05" fill="#fff"/></svg>
<div class="r" style="left:799.70px;top:430.50px;width:14.50px;height:14.50px;background:#fff;border:1px solid #eceef2;border-radius:3px;box-sizing:border-box"></div>
<svg class="r" style="left:801.95px;top:432.75px" width="10" height="10" viewBox="-5 -5 10 10"><path d="M-0.95 -4.6H0.95V-1.9H3.1L0 1.2-3.1 -1.9H-0.95z" fill="#1ba1e6"/><path d="M-3 2.2H3.1V3.75H-3z" fill="#1ba1e6"/></svg>
<div class="r" style="left:425.10px;top:447.60px;width:389.60px;height:18.70px;background:#f2f3f5;border-radius:3px"></div>
<div id="w6h1" class="t" style="left:434.20px;top:453.53px;font-size:7.4px;color:#222;-webkit-text-stroke:0.22px #222;letter-spacing:-0.704px;">User</div>
<div id="w6h2" class="t" style="left:552.50px;top:453.53px;font-size:7.4px;color:#222;-webkit-text-stroke:0.22px #222;letter-spacing:-0.500px;">Email Id</div>
<div id="w6h3" class="t" style="left:720.80px;top:453.53px;font-size:7.4px;color:#222;-webkit-text-stroke:0.22px #222;letter-spacing:-0.290px;">Analyst</div>
<div class="r" style="left:542.10px;top:454.00px;width:0.80px;height:6.30px;background:#d6d6d6"></div>
<div class="r" style="left:710.80px;top:454.00px;width:0.80px;height:6.30px;background:#d6d6d6"></div>
<div class="r" style="left:783.60px;top:454.00px;width:0.80px;height:6.30px;background:#d6d6d6"></div>
<div class="r" style="left:758.30px;top:484.90px;width:56.40px;height:0.60px;background:#eeeeee"></div>
<div class="r" style="left:758.30px;top:503.20px;width:56.40px;height:0.60px;background:#eeeeee"></div>
<div class="r" style="left:783.70px;top:466.30px;width:0.60px;height:37.20px;background:#f0f0f0"></div>
<div class="r" style="left:425.00px;top:466.60px;width:333.30px;height:37.00px;background:#fefefe;filter:blur(0.6px)"></div>
<div class="r" style="left:435.00px;top:472.80px;width:50.75px;height:7.00px;background:#d5d5d5;filter:blur(2.3px);opacity:1;border-radius:2px"></div>
<div class="r" style="left:553.00px;top:472.80px;width:86.30px;height:7.00px;background:#d5d5d5;filter:blur(2.3px);opacity:1;border-radius:2px"></div>
<div class="r" style="left:719.00px;top:472.80px;width:10.50px;height:7.00px;background:#d4d4d4;filter:blur(2.3px);opacity:1;border-radius:2px"></div>
<div class="r" style="left:435.00px;top:491.50px;width:49.50px;height:7.00px;background:#d5d5d5;filter:blur(2.3px);opacity:1;border-radius:2px"></div>
<div class="r" style="left:553.00px;top:491.50px;width:85.00px;height:7.00px;background:#d5d5d5;filter:blur(2.3px);opacity:1;border-radius:2px"></div>
<div class="r" style="left:719.00px;top:491.50px;width:10.50px;height:7.00px;background:#d4d4d4;filter:blur(2.3px);opacity:1;border-radius:2px"></div>
<div class="r" style="left:425.00px;top:649.50px;width:389.70px;height:3.10px;background:#ececec"></div>
<div class="r" style="left:425.00px;top:649.50px;width:180.75px;height:3.10px;background:#c6c6c6"></div>
<div class="r" style="left:429.50px;top:655.30px;width:18.00px;height:18.10px;background:#fff;border:1px solid #e6e9ee;border-radius:3px;box-sizing:border-box"></div>
<div class="r" style="left:452.50px;top:655.30px;width:18.25px;height:18.10px;background:#fff;border:1px solid #e6e9ee;border-radius:3px;box-sizing:border-box"></div>
<div class="r" style="left:527.00px;top:655.30px;width:18.00px;height:18.10px;background:#fff;border:1px solid #e6e9ee;border-radius:3px;box-sizing:border-box"></div>
<div class="r" style="left:550.25px;top:655.30px;width:18.00px;height:18.10px;background:#fff;border:1px solid #e6e9ee;border-radius:3px;box-sizing:border-box"></div>
<div class="r" style="left:490.75px;top:655.30px;width:18.00px;height:18.10px;background:#fff;border:1px solid #e6e9ee;border-radius:3px;box-sizing:border-box"></div>
<svg class="r" style="left:0;top:0" width="825" height="685"><path d="M438.50 662.05L434.70 664.55L438.50 667.05z" fill="#b4b8c0"/><path d="M442.30 662.05L438.50 664.55L442.30 667.05z" fill="#b4b8c0"/><path d="M462.82 662.65L460.43 664.55L462.82 666.45z" fill="#b4b8c0"/><path d="M534.60 662.35L537.40 664.55L534.60 666.75z" fill="#b4b8c0"/><path d="M555.45 662.05L559.25 664.55L555.45 667.05z" fill="#b4b8c0"/><path d="M559.25 662.05L563.05 664.55L559.25 667.05z" fill="#b4b8c0"/></svg>
<div id="p6pg" class="t" style="left:472.50px;top:660.93px;font-size:8.2px;color:#333;-webkit-text-stroke:0.1px #333;letter-spacing:-1.046px;">Page</div>
<div id="p6in" class="t" style="left:499.75px;transform:translateX(-50%);top:660.23px;font-size:8.2px;color:#333;letter-spacing:0.000px;">1</div>
<div id="p6of" class="t" style="left:510.25px;top:660.93px;font-size:8.2px;color:#333;-webkit-text-stroke:0.1px #333;letter-spacing:-0.219px;">of 1</div>
<div id="p6rec" class="t" style="left:572.00px;top:660.93px;font-size:8.2px;color:#333;-webkit-text-stroke:0.1px #333;letter-spacing:-0.347px;">records 1 - 2 of 2</div>
<div id="wl1" class="t" style="left:228.00px;top:113.98px;font-size:17.4px;color:#111;font-weight:bold;letter-spacing:-0.080px;">Widget 1</div>
<div id="wl2" class="t" style="left:665.60px;top:111.53px;font-size:17.4px;color:#111;font-weight:bold;letter-spacing:-0.016px;">Widget 2</div>
<div id="wl3" class="t" style="left:228.50px;top:268.98px;font-size:17.4px;color:#111;font-weight:bold;letter-spacing:0.027px;">Widget 3</div>
<div id="wl4" class="t" style="left:665.60px;top:266.53px;font-size:17.4px;color:#111;font-weight:bold;letter-spacing:0.055px;">Widget 4</div>
<div id="wl5" class="t" style="left:228.50px;top:425.23px;font-size:17.4px;color:#111;font-weight:bold;letter-spacing:0.027px;">Widget 5</div>
<div id="wl6" class="t" style="left:665.60px;top:422.73px;font-size:17.4px;color:#111;font-weight:bold;letter-spacing:-0.016px;">Widget 6</div>
<div class="r" style="left:0;top:0;width:825px;height:685px;box-sizing:border-box;border:1px solid #d2d2d2;box-shadow:inset 0 0 0 0.6px #e0e0e0"></div>
</div></body></html>
